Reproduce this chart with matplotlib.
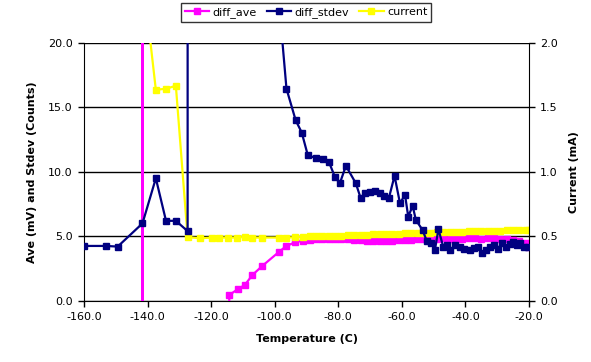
import matplotlib
matplotlib.use("Agg")
import matplotlib.pyplot as plt

# ---- data ----
t_stdev = [-160, -153.1, -149.4, -141.6, -137.4, -134.2, -131.1, -127.4, -127.0, -123.5, -119.8,
           -117.4, -114.6, -112.0, -109.4, -107.0, -103.9, -98.6, -96.3, -93.4, -91.5,
           -89.6, -87.0, -84.7, -83.0, -81.1, -79.5, -77.6, -74.5, -73.0, -71.5,
           -70.1, -68.5, -66.9, -65.6, -64.1, -62.3, -60.6, -59.0, -58.0, -56.6,
           -55.6, -53.5, -52.2, -50.9, -49.6, -48.5, -47.0, -45.8, -44.7, -43.3,
           -41.8, -40.3, -38.6, -37.2, -35.9, -34.9, -33.5, -32.3, -31.0, -29.8,
           -28.6, -27.3, -26.1, -25.0, -23.9, -22.9, -21.6, -20.3]
diff_stdev = [4.25, 4.25, 4.2, 6.0, 9.5, 6.2, 6.2, 5.4, 2000, 900, 400,
              200, 120, 80, 55, 40, 30, 23, 16.45, 14.0, 13.05,
              11.3, 11.06, 10.98, 10.8, 9.63, 9.12, 10.47, 9.12, 8.0, 8.35,
              8.47, 8.55, 8.35, 8.13, 7.95, 9.69, 7.57, 8.21, 6.53, 7.36,
              6.27, 5.49, 4.66, 4.5, 3.94, 5.55, 4.2, 4.3, 3.94, 4.3,
              4.2, 4.0, 3.94, 4.1, 4.2, 3.73, 3.9, 4.2, 4.3, 4.0,
              4.46, 4.2, 4.4, 4.57, 4.3, 4.46, 4.2, 4.2]

t_ave = [-160, -153.1, -149.4, -141.6, -137.4, -134.2, -131.1, -127.4, -123.5, -119.8,
         -117.4, -114.3, -111.7, -109.4, -107.0, -103.9, -98.6, -96.3, -93.6, -91.0,
         -89.0, -87.0, -85.0, -83.0, -81.0, -79.0, -77.0, -75.0, -73.0, -71.0,
         -69.0, -67.0, -65.0, -63.0, -61.0, -59.0, -57.0, -55.0, -53.0, -51.0,
         -49.0, -47.0, -45.0, -43.0, -41.0, -39.0, -37.0, -35.0, -33.0, -31.0,
         -29.0, -27.0, -25.0, -23.0, -21.0, -20.0]
diff_ave = [-1e7, -1e7, -1e7, 1e4, -1e7, -1e7, -1e7, -1e7, -1e7, -1e7,
            -1e7, 0.44, 0.88, 1.22, 2.0, 2.7, 3.8, 4.25, 4.53, 4.66,
            4.7, 4.75, 4.78, 4.8, 4.78, 4.75, 4.78, 4.7, 4.68, 4.65,
            4.62, 4.6, 4.62, 4.65, 4.68, 4.7, 4.72, 4.75, 4.8, 4.85,
            4.82, 4.85, 4.8, 4.85, 4.82, 4.9, 4.85, 4.8, 4.9, 4.85,
            4.8, 4.75, 4.7, 4.6, 4.5, 4.2]

t_cur = [-141.6, -137.4, -134.2, -131.1, -127.4, -123.5, -119.8, -117.4, -114.6, -112.0,
         -109.4, -107.0, -103.9, -98.6, -96.3, -93.7, -91.0, -89.0, -87.0, -85.0,
         -83.0, -81.0, -79.0, -77.0, -75.0, -73.0, -71.0, -69.0, -67.0, -65.0,
         -63.0, -61.0, -59.0, -57.0, -55.0, -53.0, -51.0, -49.0, -47.0, -45.0,
         -43.0, -41.0, -39.0, -37.0, -35.0, -33.0, -31.0, -29.0, -27.0, -25.0,
         -23.0, -21.0, -20.0]
current = [2.55, 1.637, 1.645, 1.668, 0.493, 0.485, 0.49, 0.49, 0.49, 0.49,
           0.495, 0.49, 0.49, 0.49, 0.49, 0.492, 0.495, 0.50, 0.50, 0.502,
           0.503, 0.505, 0.505, 0.507, 0.51, 0.512, 0.513, 0.515, 0.515, 0.517,
           0.518, 0.52, 0.522, 0.523, 0.525, 0.527, 0.528, 0.53, 0.532, 0.534,
           0.535, 0.537, 0.538, 0.54, 0.541, 0.542, 0.543, 0.544, 0.545, 0.545,
           0.545, 0.545, 0.545]

x_ticks = [-160, -140, -120, -100, -80, -60, -40, -20]
y_ticks = [0, 5, 10, 15, 20]
y2_ticks = [0, 0.5, 1.0, 1.5, 2.0]

# ---- figure ----
fig = plt.figure(figsize=(5.91, 3.62), dpi=100)
pos = [84/591, 1 - 300.7/362, (529 - 84)/591, (300.7 - 43)/362]
ax = fig.add_axes(pos)            # grid, left axis, x axis
ax0 = fig.add_axes(pos)           # magenta
ax2 = fig.add_axes(pos)           # yellow, right axis
ax3 = fig.add_axes(pos)           # navy

fs = 8
for a in (ax, ax0, ax3):
    a.set_xlim(-160, -20)
    a.set_ylim(0, 20)
ax2.set_xlim(-160, -20)
ax2.set_ylim(0, 2.0)

ax.set_xticks(x_ticks)
ax.set_xticklabels([f"{v:.1f}" for v in x_ticks], fontsize=fs)
ax.set_yticks(y_ticks)
ax.set_yticklabels([f"{v:.1f}" for v in y_ticks], fontsize=fs)

ax2.xaxis.set_visible(False)
ax2.yaxis.tick_right()
ax2.yaxis.set_label_position('right')
ax2.set_yticks(y2_ticks)
ax2.set_yticklabels([f"{v:.1f}" for v in y2_ticks], fontsize=fs)

for a in (ax, ax2):
    a.tick_params(direction='out', length=4, width=1, color='black', pad=4)
    for s in a.spines.values():
        s.set_visible(False)
ax.spines['left'].set_visible(True)
ax.spines['bottom'].set_visible(True)
ax2.spines['right'].set_visible(True)

ax.yaxis.grid(True, color='black', linewidth=1)
ax.set_axisbelow(True)

ax.set_xlabel("Temperature (C)", fontsize=fs, fontweight='bold', labelpad=9)
ax.set_ylabel("Ave (mV) and Stdev (Counts)", fontsize=fs, fontweight='bold', labelpad=8)
ax2.set_ylabel("Current (mA)", fontsize=fs, fontweight='bold', labelpad=8)

for a in (ax0, ax3):
    a.axis('off')
for a in (ax0, ax2, ax3):
    a.patch.set_visible(False)

ms = 5
l1, = ax0.plot(t_ave, diff_ave, color='#FF00FF', marker='s', markersize=ms, lw=1.6,
               label='diff_ave')
l3, = ax2.plot(t_cur, current, color='#FFFF00', marker='s', markersize=ms, lw=1.6,
               label='current')
l2, = ax3.plot(t_stdev, diff_stdev, color='#000080', marker='s', markersize=ms, lw=1.6,
               label='diff_stdev')

ax.set_zorder(0)
ax0.set_zorder(1)
ax2.set_zorder(2)
ax3.set_zorder(3)

leg = fig.legend([l1, l2, l3], ['diff_ave', 'diff_stdev', 'current'],
                 loc='upper center', bbox_to_anchor=(306/591, 1 - 3/362), ncol=3,
                 fontsize=fs, frameon=True, fancybox=False, edgecolor='black',
                 handlelength=2.2, handletextpad=0.3, columnspacing=0.9,
                 borderpad=0.35, borderaxespad=0)
leg.get_frame().set_linewidth(1)

fig.savefig("out.png", dpi=100)
